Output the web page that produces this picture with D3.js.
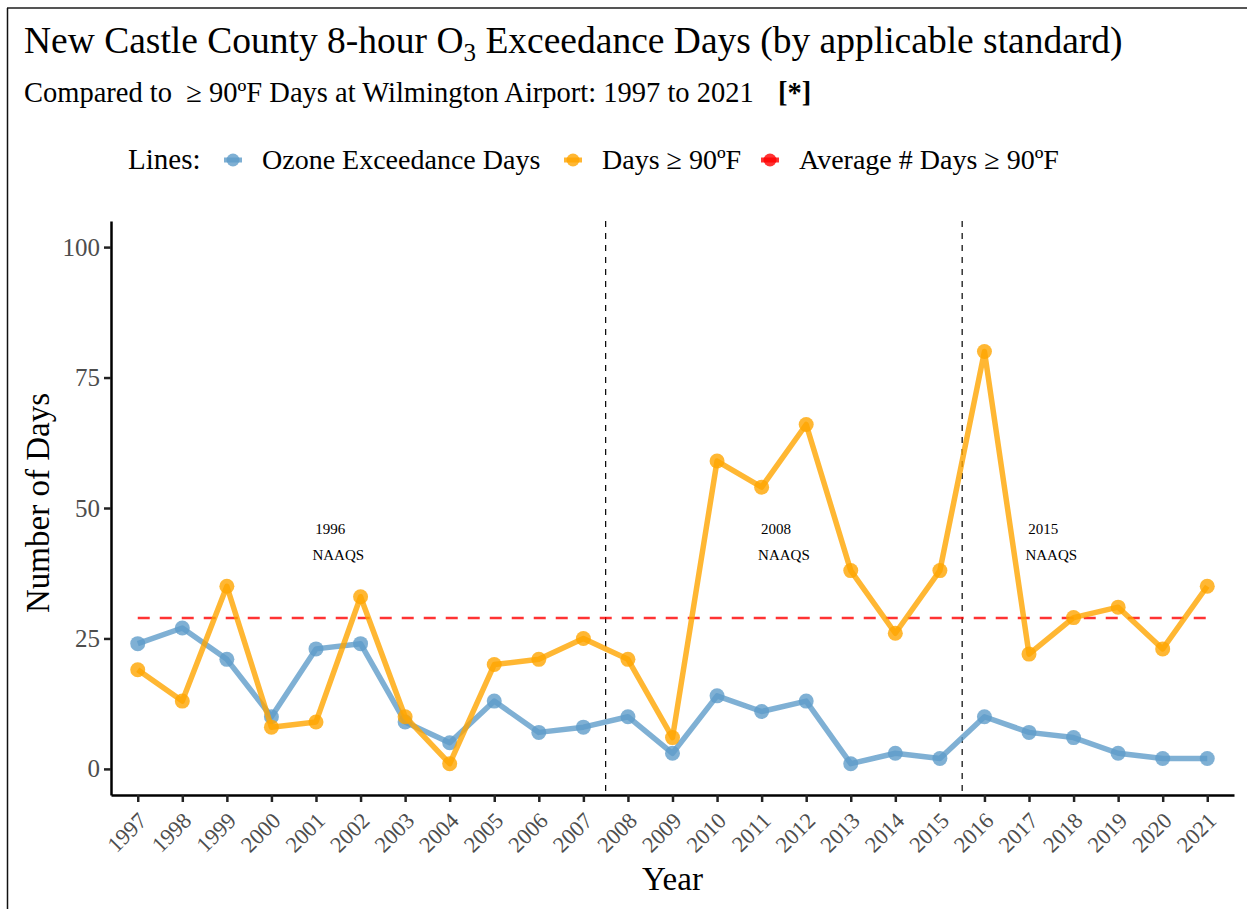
<!DOCTYPE html>
<html>
<head>
<meta charset="utf-8">
<script src="https://cdn.jsdelivr.net/npm/d3@7"></script>
<style>
  body { margin: 0; background: #fff; }
  svg text { font-family: "Liberation Serif", "Times New Roman", serif; }
</style>
</head>
<body>
<div id="chart"></div>
<script>
// data
const years = [1997, 1998, 1999, 2000, 2001, 2002, 2003, 2004, 2005, 2006, 2007, 2008, 2009,
  2010, 2011, 2012, 2013, 2014, 2015, 2016, 2017, 2018, 2019, 2020, 2021];
const ozoneDays = [24, 27, 21, 10, 23, 24, 9, 5, 13, 7, 8, 10, 3, 14, 11, 13, 1, 3, 2, 10, 7, 6, 3, 2, 2];
const hotDays = [19, 13, 35, 8, 9, 33, 10, 1, 20, 21, 25, 21, 6, 59, 54, 66, 38, 26, 38, 80, 22, 29, 31, 23, 35];
const avgHotDays = 28.9;
const yTicks = [0, 25, 50, 75, 100];
const standardBreaks = [2007.5, 2015.5];
const standardLabels = [
  { x: 2001.5, year: "1996" },
  { x: 2011.5, year: "2008" },
  { x: 2017.5, year: "2015" }
];
const legendItems = [
  { label: "Ozone Exceedance Days", color: "#5f9cc9" },
  { label: "Days \u2265 90\u00baF", color: "#ffa500" },
  { label: "Average # Days \u2265 90\u00baF", color: "#ff0000" }
];

const W = 1247, H = 909;
const margin = { top: 221, right: 13, bottom: 114, left: 111 };
const width = W - margin.left - margin.right;
const height = H - margin.top - margin.bottom;

const svg = d3.select("#chart").append("svg")
  .attr("width", W)
  .attr("height", H);

// frame lines (top + left only visible)
svg.append("line").attr("x1", 7).attr("x2", W).attr("y1", 8).attr("y2", 8)
  .attr("stroke", "#555").attr("stroke-width", 2);
svg.append("line").attr("x1", 7.5).attr("x2", 7.5).attr("y1", 8).attr("y2", H)
  .attr("stroke", "#111").attr("stroke-width", 1.5);

// titles
const title = svg.append("text")
  .attr("x", 24).attr("y", 53)
  .attr("font-size", 37.5).attr("fill", "#000");
title.append("tspan").text("New Castle County 8-hour O");
title.append("tspan").attr("font-size", 25).attr("dy", 8).text("3");
title.append("tspan").attr("dy", -8).text(" Exceedance Days (by applicable standard)");

const sub = svg.append("text")
  .attr("x", 24).attr("y", 102)
  .attr("font-size", 28.5).attr("fill", "#000")
  .style("white-space", "pre");
sub.append("tspan").text("Compared to  \u2265 90\u00baF Days at Wilmington Airport: 1997 to 2021");
sub.append("tspan").attr("x", 778).attr("font-weight", "bold").text("[*]");

// legend
const legend = svg.append("g");
legend.append("text").attr("x", 128).attr("y", 169).attr("font-size", 29).text("Lines:");
const legendX = [233, 573, 770];
legendItems.forEach((d, i) => {
  const g = legend.append("g").attr("transform", "translate(" + legendX[i] + ",160)");
  g.append("line").attr("x1", -9).attr("x2", 9)
    .attr("stroke", d.color).attr("stroke-width", 5).attr("opacity", 0.8);
  g.append("circle").attr("r", 6.5).attr("fill", d.color).attr("opacity", 0.8);
  g.append("text").attr("x", 29).attr("y", 9).attr("font-size", 28).text(d.label);
});

const plot = svg.append("g")
  .attr("transform", "translate(" + margin.left + "," + margin.top + ")");

const x = d3.scaleLinear().domain([1997 - 0.6, 2021 + 0.6]).range([0, width]);
const y = d3.scaleLinear().domain([-5, 105]).range([height, 0]);

// axes
const xAxis = plot.append("g")
  .attr("transform", "translate(0," + height + ")")
  .call(d3.axisBottom(x).tickValues(years).tickFormat(d3.format("d")).tickSize(7).tickSizeOuter(0));
xAxis.select(".domain").attr("stroke", "#000").attr("stroke-width", 2.5);
xAxis.selectAll(".tick line").attr("stroke", "#222").attr("stroke-width", 2.5);
xAxis.selectAll(".tick text")
  .attr("font-family", "Liberation Serif, serif")
  .attr("font-size", 22.5).attr("fill", "#4d4d4d")
  .attr("text-anchor", "end")
  .attr("y", 0).attr("dy", null)
  .attr("transform", "translate(10,27) rotate(-45)");

const yAxis = plot.append("g")
  .call(d3.axisLeft(y).tickValues(yTicks).tickSize(7).tickSizeOuter(0));
yAxis.select(".domain").attr("stroke", "#000").attr("stroke-width", 2.5);
yAxis.selectAll(".tick line").attr("stroke", "#222").attr("stroke-width", 2.5);
yAxis.selectAll(".tick text")
  .attr("font-family", "Liberation Serif, serif")
  .attr("font-size", 25).attr("fill", "#4d4d4d")
  .attr("x", -11);

// axis titles
svg.append("text")
  .attr("transform", "translate(49,503) rotate(-90)")
  .attr("text-anchor", "middle").attr("font-size", 33).text("Number of Days");
svg.append("text")
  .attr("x", margin.left + width / 2).attr("y", 890)
  .attr("text-anchor", "middle").attr("font-size", 33).text("Year");

// standard change lines
plot.selectAll(".brk").data(standardBreaks).enter().append("line")
  .attr("x1", d => x(d)).attr("x2", d => x(d))
  .attr("y1", 0).attr("y2", height)
  .attr("stroke", "#000").attr("stroke-width", 1.2)
  .attr("stroke-dasharray", "6,6");

// standard labels
standardLabels.forEach(d => {
  plot.append("text").attr("x", x(d.x) - 8).attr("y", y(46) + 5)
    .attr("text-anchor", "middle").attr("font-size", 15).text(d.year);
  plot.append("text").attr("x", x(d.x)).attr("y", y(41) + 5)
    .attr("text-anchor", "middle").attr("font-size", 15).text("NAAQS");
});

// average line
plot.append("line")
  .attr("x1", x(years[0])).attr("x2", x(years[years.length - 1]))
  .attr("y1", y(avgHotDays)).attr("y2", y(avgHotDays))
  .attr("stroke", "#ff0000").attr("stroke-opacity", 0.8)
  .attr("stroke-width", 2.5).attr("stroke-dasharray", "12,10");

const line = d3.line().x(d => x(d[0])).y(d => y(d[1]));

function drawSeries(vals, color) {
  const pts = years.map((yr, i) => [yr, vals[i]]);
  plot.append("path").datum(pts)
    .attr("d", line)
    .attr("fill", "none").attr("stroke", color)
    .attr("stroke-opacity", 0.8).attr("stroke-width", 5.5)
    .attr("stroke-linejoin", "round");
  plot.append("g").selectAll("circle").data(pts).enter().append("circle")
    .attr("cx", d => x(d[0])).attr("cy", d => y(d[1]))
    .attr("r", 7.5).attr("fill", color).attr("fill-opacity", 0.8);
}

drawSeries(ozoneDays, "#5f9cc9");
drawSeries(hotDays, "#ffa500");
</script>
</body>
</html>
